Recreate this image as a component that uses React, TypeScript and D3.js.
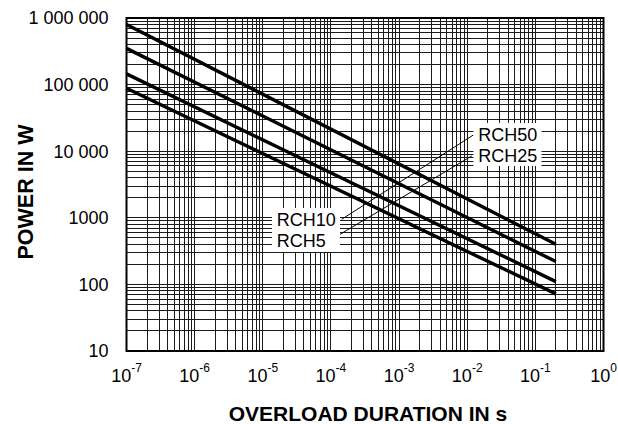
import React from 'react';
import * as d3 from 'd3';

// overload duration (s) at the start and end of each curve
const durations = [1e-7, 0.2];

// power (W)
const rch50 = [800000, 400];
const rch25 = [350000, 220];
const rch10 = [145000, 110];
const rch5 = [88000, 72];

const seriesNames = ['RCH50', 'RCH25', 'RCH10', 'RCH5'];
const seriesValues = [rch50, rch25, rch10, rch5];

const xExponents = [-7, -6, -5, -4, -3, -2, -1, 0];
const yTickValues = [10, 100, 1000, 10000, 100000, 1000000];
const yTickLabels = ['10', '100', '1000', '10 000', '100 000', '1 000 000'];

const W = 618;
const H = 424;
const margin = { top: 18, right: 14.5, bottom: 73, left: 126.5 };
const FONT = '"Liberation Sans", Arial, Helvetica, sans-serif';

const App: React.FC = () => {
    const x = d3.scaleLog().domain([1e-7, 1]).range([margin.left, W - margin.right]);
    const y = d3.scaleLog().domain([10, 1e6]).range([H - margin.bottom, margin.top]);
    const [x0, x1] = x.range();
    const [y0, y1] = y.range();

    // full log grid: 1..9 in every decade
    const xGrid: number[] = [];
    for (let e = -7; e < 0; e++) for (let m = 1; m <= 9; m++) xGrid.push(m * Math.pow(10, e));
    const yGrid: number[] = [];
    for (let e = 1; e < 6; e++) for (let m = 1; m <= 9; m++) yGrid.push(m * Math.pow(10, e));

    const line = d3.line<[number, number]>()
        .x(d => x(d[0]))
        .y(d => y(d[1]));

    return (
        <div style={{ position: 'fixed', left: 0, top: 0, width: W, height: H, background: '#fff' }}>
            <svg width={W} height={H} style={{ display: 'block' }} fontFamily={FONT}>
                <rect x={0} y={0} width={W} height={H} fill="#fff" />

                {/* grid */}
                <g stroke="#1a1a1a" strokeWidth={1} shapeRendering="crispEdges">
                    {xGrid.map((v, i) => (
                        <line key={'gx' + i} x1={x(v)} x2={x(v)} y1={y1} y2={y0} />
                    ))}
                    {yGrid.map((v, i) => (
                        <line key={'gy' + i} x1={x0} x2={x1} y1={y(v)} y2={y(v)} />
                    ))}
                </g>

                {/* curves */}
                <g fill="none" stroke="#000" strokeWidth={3.4} strokeLinecap="butt">
                    {seriesValues.map((vals, i) => (
                        <path
                            key={seriesNames[i]}
                            d={line(durations.map((t, j) => [t, vals[j]] as [number, number])) || ''}
                        />
                    ))}
                </g>

                {/* leader lines */}
                <g stroke="#000" strokeWidth={1}>
                    <line x1={473.3} y1={135} x2={341.7} y2={219.3} />
                    <line x1={471.7} y1={156} x2={333.3} y2={238.3} />
                </g>

                {/* label boxes */}
                <rect x={473.5} y={123} width={68} height={43} fill="#fff" />
                <rect x={272} y={208} width={68} height={44} fill="#fff" />
                <g fontSize={18} fill="#000">
                    <text x={478.3} y={140.7}>{seriesNames[0]}</text>
                    <text x={478.3} y={161.7}>{seriesNames[1]}</text>
                    <text x={276.7} y={226}>{seriesNames[2]}</text>
                    <text x={276.7} y={247.3}>{seriesNames[3]}</text>
                </g>

                {/* frame */}
                <rect x={x0} y={y1} width={x1 - x0} height={y0 - y1} fill="none" stroke="#000" strokeWidth={2} />

                {/* y tick labels */}
                <g fontSize={18} fill="#000" textAnchor="end">
                    {yTickValues.map((v, i) => (
                        <text key={'yt' + i} x={x0 - 18} y={y(v)} dy="0.35em">{yTickLabels[i]}</text>
                    ))}
                </g>

                {/* x tick labels */}
                <g fontSize={18} fill="#000" textAnchor="middle">
                    {xExponents.map(e => (
                        <text key={'xt' + e} x={x(Math.pow(10, e))} y={381.5}>
                            10<tspan fontSize={12} dy={-10}>{String(e).replace('-', '-')}</tspan>
                        </text>
                    ))}
                </g>

                {/* axis titles */}
                <text x={368} y={420.5} textAnchor="middle" fontSize={21} fontWeight="bold">
                    OVERLOAD DURATION IN s
                </text>
                <text
                    transform={`translate(${33},${192}) rotate(-90)`}
                    textAnchor="middle"
                    fontSize={21.5}
                    fontWeight="bold"
                >
                    POWER IN W
                </text>
            </svg>
        </div>
    );
};

export default App;
